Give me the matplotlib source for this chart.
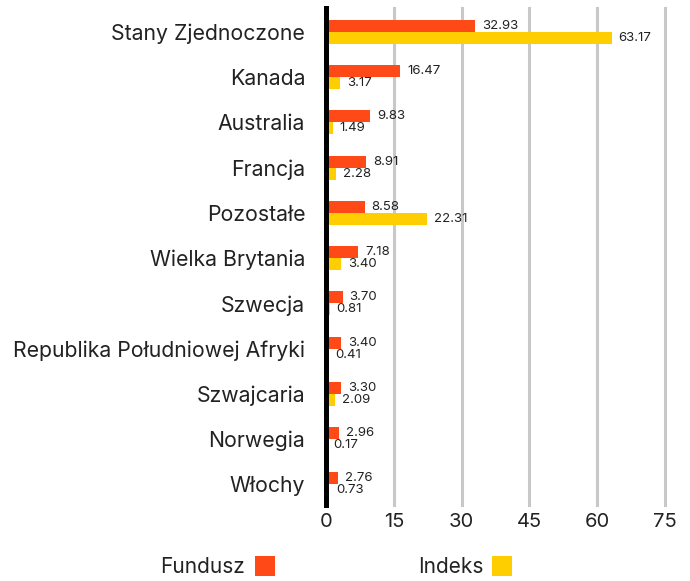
import matplotlib
matplotlib.use("Agg")
import matplotlib.pyplot as plt
from matplotlib.patches import Rectangle
import numpy as np

categories = ["Stany Zjednoczone", "Kanada", "Australia", "Francja", "Pozostałe",
              "Wielka Brytania", "Szwecja", "Republika Południowej Afryki",
              "Szwajcaria", "Norwegia", "Włochy"]
fundusz = [32.93, 16.47, 9.83, 8.91, 8.58, 7.18, 3.70, 3.40, 3.30, 2.96, 2.76]
indeks = [63.17, 3.17, 1.49, 2.28, 22.31, 3.40, 0.81, 0.41, 2.09, 0.17, 0.73]
xticks = [0, 15, 30, 45, 60, 75]
series_names = ["Fundusz", "Indeks"]

C_F = "#FF4A17"
C_I = "#FFCE00"

plt.rcParams['font.family'] = ['Inter', 'DejaVu Sans']

fig = plt.figure(figsize=(6.9, 5.81), dpi=100)
ax = fig.add_axes([326/690, 1-505/581, (665-326)/690, (505-8)/581])

y = np.arange(len(categories))
h = 0.265
ax.barh(y - h/2, fundusz, height=h, color=C_F, zorder=3)
ax.barh(y + h/2, indeks, height=h, color=C_I, zorder=3)

for yi, v in zip(y, fundusz):
    ax.annotate(f"{v:.2f}", (v, yi - h/2), xytext=(5, 0), textcoords="offset points",
                va="center", ha="left", fontsize=9.5, color="#222222", zorder=4)
for yi, v in zip(y, indeks):
    ax.annotate(f"{v:.2f}", (v, yi + h/2), xytext=(5, 0), textcoords="offset points",
                va="center", ha="left", fontsize=9.5, color="#222222", zorder=4)

ax.set_xlim(0, 75)
ax.set_ylim(10.46, -0.53)
ax.set_xticks(xticks)
ax.set_xticklabels([str(t) for t in xticks], fontsize=14.5, color="#222222")
ax.set_yticks(y)
ax.set_yticklabels(categories, fontsize=15.3, color="#222222")
ax.tick_params(axis="y", length=0, pad=15)
ax.tick_params(axis="x", length=0, pad=6)
for s in ax.spines.values():
    s.set_visible(False)
ax.grid(axis="x", color="#C8C8C8", linewidth=2.2, zorder=1)
for gl in ax.get_xgridlines():
    gl.set_clip_on(False)
ax.axvline(0, color="black", linewidth=3.6, zorder=5, clip_on=False)

# legend
fig.text(160/690, 1-567/581, series_names[0], fontsize=15, va="center", ha="left", color="#222222")
fig.patches.append(Rectangle((255/690, 1-576/581), 20/690, 20/581, transform=fig.transFigure,
                             facecolor=C_F, edgecolor="none"))
fig.text(418/690, 1-567/581, series_names[1], fontsize=15, va="center", ha="left", color="#222222")
fig.patches.append(Rectangle((492/690, 1-576/581), 20/690, 20/581, transform=fig.transFigure,
                             facecolor=C_I, edgecolor="none"))

fig.savefig("out.png", dpi=100)
